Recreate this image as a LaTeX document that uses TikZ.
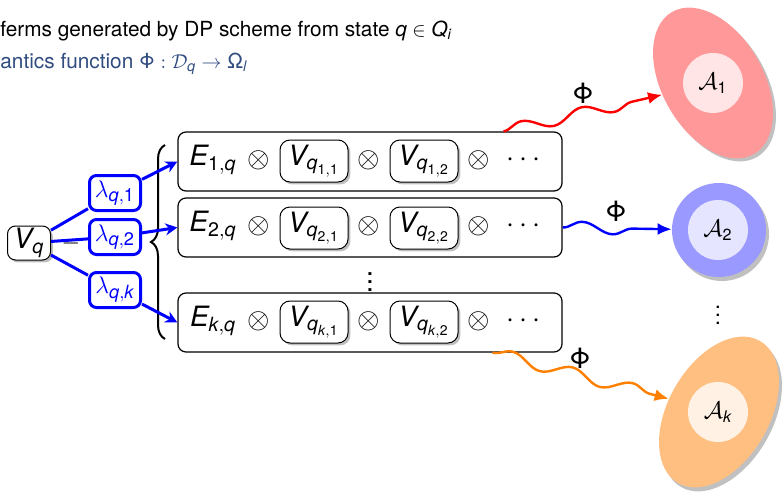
\documentclass[tikz,border=0pt]{standalone}
\usepackage{amsmath}
\usepackage{fontspec}
\setmainfont{TeX Gyre Heros}
\usetikzlibrary{shapes.geometric,shadows,decorations.pathmorphing,decorations.pathreplacing,arrows.meta,calc}
% sans letters and digits inside formulas
\newcommand{\mvar}[1]{\textit{#1}}
\newcommand{\mnum}[1]{\textup{#1}}
\definecolor{slidetext}{RGB}{48,76,128}
\definecolor{shadowgray}{RGB}{192,192,192}

\begin{document}
\begin{tikzpicture}[x=0.5pt,y=-0.5pt,
  every node/.style={inner sep=1pt},
  rowbox/.style={draw, line width=0.6pt, rounded corners=4pt,
    minimum width=192pt, minimum height=29.5pt},
  rowtxt/.style={font=\fontsize{14}{16}\selectfont},
  vbox/.style={draw, line width=0.5pt, rounded corners=5pt, fill=white,
    minimum width=34pt, minimum height=21pt, inner sep=1pt,
    font=\fontsize{14}{16}\selectfont,
    drop shadow={shadow xshift=1.2pt, shadow yshift=-1.2pt, fill=shadowgray, opacity=1}},
  lambox/.style={draw=blue, line width=1.5pt, rounded corners=3.5pt, text=blue,
    fill=white, minimum width=25.5pt, minimum height=17.5pt, inner sep=1pt,
    font=\fontsize{13}{15}\selectfont},
  link/.style={blue, line width=1.5pt},
  linkarrow/.style={link, -{Stealth[length=6pt,width=6pt]}},
  wavy/.style={line width=1.2pt, decorate,
    decoration={snake, amplitude=3pt, segment length=31pt, post length=6pt},
    -{Latex[length=7pt,width=6pt]}},
  phi/.style={font=\fontsize{14}{16}\selectfont},
  inner/.style={circle, minimum size=30pt, inner sep=0pt,
    font=\fontsize{11.5}{13}\selectfont},
  shade/.style={fill=shadowgray, draw=none}
]
\useasboundingbox (0,0) rectangle (783,493);

% heading lines
\node[anchor=base west, inner sep=0pt, font=\fontsize{10.4}{12}\selectfont] (head1) at (0,36)
  {ferms generated by DP scheme from state $\mvar{q}\in \mvar{Q}_{\mvar{i}}$};
\node[anchor=base west, inner sep=0pt, text=slidetext, font=\fontsize{10.4}{12}\selectfont] (head2) at (0,68)
  {antics function $\text{Φ} : \mathcal{D}_{\mvar{q}} \to \text{Ω}_{\mvar{l}}$};

% source state
\node[draw, line width=0.5pt, rounded corners=4pt, fill=white,
  minimum width=21.5pt, minimum height=17pt, inner sep=1pt,
  font=\fontsize{14}{16}\selectfont,
  drop shadow={shadow xshift=1.2pt, shadow yshift=-1.2pt, fill=shadowgray, opacity=1}]
  (vq) at (29,243) {$\mvar{V}_{\mvar{q}}$};
\node[font=\fontsize{12}{14}\selectfont] (minus) at (71,243) {$-$};

% weights
\node[lambox] (l1) at (115,193) {$\lambda_{\mvar{q},\mnum{1}}$};
\node[lambox] (l2) at (115,237) {$\lambda_{\mvar{q},\mnum{2}}$};
\node[lambox] (lk) at (115,290) {$\lambda_{\mvar{q},\mvar{k}}$};

% brace grouping the rows
\draw[line width=1pt, decorate, decoration={brace, amplitude=7pt}]
  (165,339) coordinate (bb) -- (165,145) coordinate (bt);

% rows of terms
\node[rowbox] (row1) at (370,161.5) {};
\node[rowbox] (row2) at (370,227.5) {};
\node[rowbox] (rowk) at (370,322.5) {};

\node[rowtxt] (e1) at (213,160) {$\mvar{E}_{\mnum{1},\mvar{q}}$};
\node[rowtxt] (o11) at (259,160) {$\otimes$};
\node[vbox] (v11) at (314,161) {$\mvar{V}_{\mvar{q}_{\mnum{1},\mnum{1}}}$};
\node[rowtxt] (o12) at (369,160) {$\otimes$};
\node[vbox] (v12) at (424,161) {$\mvar{V}_{\mvar{q}_{\mnum{1},\mnum{2}}}$};
\node[rowtxt] (o13) at (479,160) {$\otimes$};
\node[rowtxt] (d1) at (526,160) {$\cdots$};

\node[rowtxt] (e2) at (213,226) {$\mvar{E}_{\mnum{2},\mvar{q}}$};
\node[rowtxt] (o21) at (259,226) {$\otimes$};
\node[vbox] (v21) at (314,228) {$\mvar{V}_{\mvar{q}_{\mnum{2},\mnum{1}}}$};
\node[rowtxt] (o22) at (369,226) {$\otimes$};
\node[vbox] (v22) at (424,228) {$\mvar{V}_{\mvar{q}_{\mnum{2},\mnum{2}}}$};
\node[rowtxt] (o23) at (479,226) {$\otimes$};
\node[rowtxt] (d2) at (526,226) {$\cdots$};

\node[rowtxt] (vd) at (370,276) {$\vdots$};

\node[rowtxt] (ek) at (213,321) {$\mvar{E}_{\mvar{k},\mvar{q}}$};
\node[rowtxt] (ok1) at (259,321) {$\otimes$};
\node[vbox] (vk1) at (314,322) {$\mvar{V}_{\mvar{q}_{\mvar{k},\mnum{1}}}$};
\node[rowtxt] (ok2) at (369,321) {$\otimes$};
\node[vbox] (vk2) at (424,322) {$\mvar{V}_{\mvar{q}_{\mvar{k},\mnum{2}}}$};
\node[rowtxt] (ok3) at (479,321) {$\otimes$};
\node[rowtxt] (dk) at (526,321) {$\cdots$};

% connectors from the state to the rows
\draw[link] (vq) -- (l1);
\draw[link] (vq) -- (l2);
\draw[link] (vq) -- (lk);
\draw[linkarrow] (l1) -- (row1.west);
\draw[linkarrow] (l2) -- (row2.west);
\draw[linkarrow] (lk) -- (rowk.west);

% target domains, shadows first
\node[ellipse, shade, minimum width=82pt, minimum height=50.5pt, rotate=-60] (a1s) at (716,86) {};
\node[ellipse, fill=red!40, minimum width=82pt, minimum height=50.5pt, rotate=-60] (a1) at (713,83) {};
\node[inner, fill=red!10] (a1i) at (713,83) {$\mathcal{A}_{\mnum{1}}$};

\node[circle, shade, minimum size=47pt] (a2s) at (722,234) {};
\node[circle, fill=blue!40, minimum size=47pt] (a2) at (719,230) {};
\node[inner, fill=blue!10] (a2i) at (718,230) {$\mathcal{A}_{\mnum{2}}$};

\node[font=\fontsize{11}{13}\selectfont] (avd) at (718,309) {$\vdots$};

\node[ellipse, shade, minimum width=82pt, minimum height=50.5pt, rotate=60] (aks) at (722,416) {};
\node[ellipse, fill=orange!50, minimum width=82pt, minimum height=50.5pt, rotate=60] (ak) at (719,412) {};
\node[inner, fill=orange!10] (aki) at (718,412) {$\mathcal{A}_{\mvar{k}}$};

% semantic maps
\coordinate (r1out) at ($(row1.north east)+(-59,0)$);
\coordinate (rkout) at ($(rowk.south east)+(-70,0)$);
\draw[wavy, red] (r1out) -- (a1);
\draw[wavy, blue] (row2.east) -- (a2);
\draw[wavy, orange] (rkout) -- (ak);
\node[phi] (phi1) at (583,93) {Φ};
\node[phi] (phi2) at (616,211) {Φ};
\node[phi] (phik) at (580,358) {Φ};
\end{tikzpicture}
\end{document}
